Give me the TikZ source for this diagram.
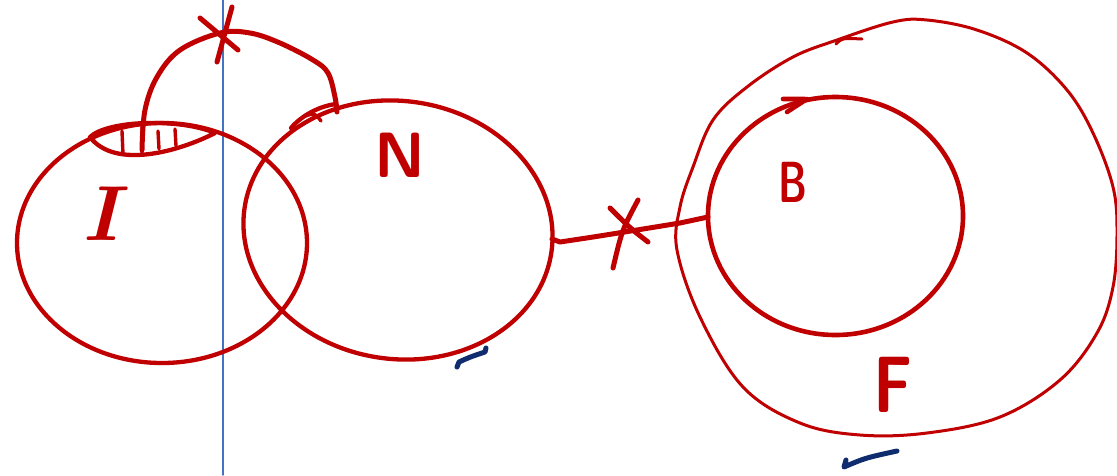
\documentclass[tikz,border=0pt]{standalone}
\usepackage{xcolor}
\definecolor{pen}{HTML}{C00000}
\definecolor{ink}{HTML}{0F2C6E}
\definecolor{rulecol}{HTML}{4472C4}
\begin{document}
\begin{tikzpicture}[x=1pt,y=-1pt, line cap=round, line join=round,
  redline/.style={draw=pen, line width=4.3pt},
  thinred/.style={draw=pen, line width=3pt},
  heavyred/.style={draw=pen, line width=5pt},
  tick/.style={draw=ink, line width=5pt},
  lbl/.style={text=pen, inner sep=0pt}]
\useasboundingbox (0,0) rectangle (1117,475);
\fill[white] (0,0) rectangle (1117,475);
% blue vertical rule
\draw[rulecol, line width=1.4pt] (223,0) -- (223,475);
% ellipse I
\draw[redline] (162,243) ellipse [x radius=145, y radius=120];
% hatched lens
\draw[redline] (90,137) .. controls (108,120) and (180,118) .. (215,133) .. controls (180,151) and (115,170) .. (90,137);
\draw[redline, line width=3.4pt] (122,131) -- (123,154) (142,126) -- (142,154) (158,131) -- (159,149) (175,129) -- (176,146);
% ellipse N
\draw[redline, rotate around={-8:(398,230)}] (398,230) ellipse [x radius=155, y radius=129];
% arc from lens to N with cross
\draw[heavyred] plot[smooth, tension=0.6] coordinates {(142,150) (145,110) (157,77) (180,50) (220,33) (250,33) (280,43) (313,60) (328,73) (335,97) (337,112)};
\draw[heavyred] (200,18) -- (238,50) (232,7) -- (217,62);
\draw[redline] (291,128) .. controls (302,115) and (320,106) .. (336,104);
\draw[redline, line width=3.4pt] (305,116) .. controls (315,113) .. (321,121);
% circle B
\draw[redline, line width=4.6pt] (835.5,216) ellipse [x radius=127.5, y radius=119];
\draw[redline, line width=4.6pt] (787,112) -- (807,99) (783,99) -- (805,99);
% outer F
\draw[thinred] plot[smooth cycle, tension=0.6] coordinates {(837,40) (893,22) (927,20) (977,30) (1027,53) (1067,90) (1093,133) (1113,187) (1117,233) (1113,287) (1097,333) (1060,380) (1000,417) (927,433) (860,435) (800,423) (743,387) (700,317) (677,250) (680,207) (693,167) (713,120) (747,87) (793,57)};
\draw[thinred] (836,44) .. controls (842,38) .. (862,39);
% connector N -- B with cross
\coordinate (Nr) at (552,239);
\coordinate (Bl) at (708,217);
\draw[heavyred] (Nr) -- (560,242) .. controls (600,236) .. (680,223) -- (Bl);
\draw[heavyred] (610,208) .. controls (630,228) .. (648,242) (638,200) .. controls (622,230) .. (613,268);
% check marks
\draw[tick] (457,367) -- (459,362) .. controls (470,357) .. (485,352) -- (486,348);
\draw[tick] (846,460) -- (844,467) .. controls (865,458) .. (897,451);
% letters
\node[lbl, font=\fontsize{78}{78}\selectfont\bfseries\itshape] (lI) at (101,214) {I};
\node[lbl, font=\fontsize{64}{64}\selectfont\sffamily\bfseries] (lN) at (400,155) {N};
\node[lbl, font=\fontsize{58}{58}\selectfont\sffamily\bfseries, xscale=0.68] (lB) at (793,182) {B};
\node[lbl, font=\fontsize{80}{80}\selectfont\sffamily\bfseries, xscale=0.8] (lF) at (893,385) {F};
\end{tikzpicture}
\end{document}
